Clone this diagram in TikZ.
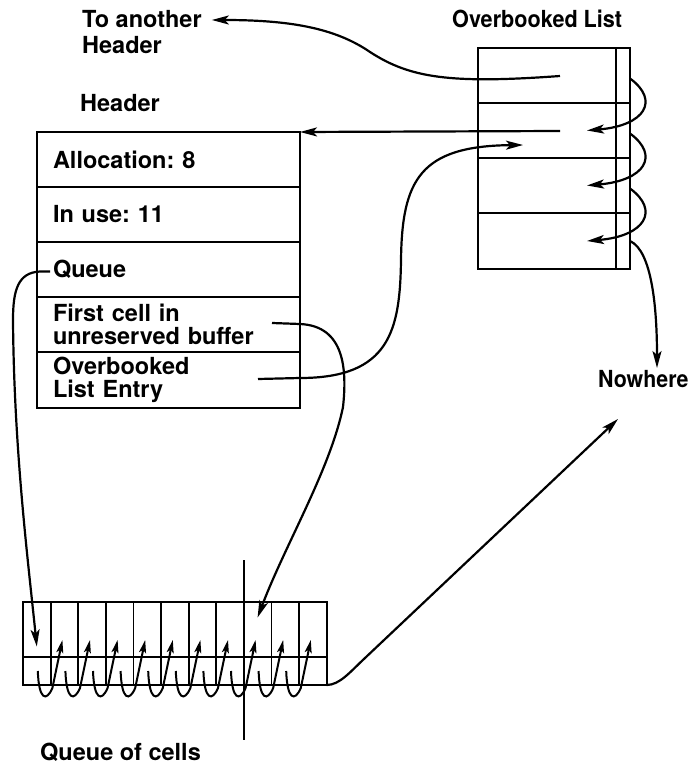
\documentclass[tikz,border=0pt]{standalone}
\usepackage{fontspec}
\usepackage{graphicx}
\setmainfont{TeX Gyre Heros}
\frenchspacing
\usetikzlibrary{arrows.meta,positioning}
\tikzset{
  lbl/.style={font=\bfseries\fontsize{23.5}{26}\selectfont,inner sep=0pt},
  hrow/.style={draw,line width=2pt,minimum width=263pt,minimum height=55pt,text width=231pt,
    inner xsep=16pt,inner ysep=0pt,outer sep=0pt,align=left,font=\bfseries\fontsize{23.5}{23}\selectfont},
  orow/.style={draw,line width=2pt,minimum width=152pt,minimum height=55pt,inner sep=0pt,outer sep=0pt},
  qtop/.style={draw,line width=1.8pt,minimum width=27.6pt,minimum height=55pt,inner sep=0pt,outer sep=0pt},
  qbot/.style={qtop,minimum height=28pt},
  ar/.style={-{Stealth[length=17pt,width=9pt,inset=4pt]},line width=2.2pt},
  sar/.style={-{Stealth[length=13pt,width=7pt,inset=3pt]},line width=2pt},
}
\begin{document}
\begin{tikzpicture}[x=1pt,y=-1pt]
  \useasboundingbox (0,0) rectangle (692,767);
  % labels
  \node[lbl,anchor=north west,align=left] (ta) at (82,10) {To another\\Header};
  \node[lbl,anchor=base west] (olt) at (452,28) {\scalebox{0.92}[1]{Overbooked List}};
  \node[lbl,anchor=base west] (hl) at (80,112) {Header};
  \node[lbl,anchor=base west] (nw) at (598,387) {\scalebox{0.91}[1]{Nowhere}};
  \node[lbl,anchor=base west] (qc) at (40,760) {Queue of cells};
  % header
  \node[hrow] (alloc) at (168.5,159.5) {Allocation: 8};
  \node[hrow,below=0pt of alloc] (inuse) {In use: 11};
  \node[hrow,below=0pt of inuse] (queue) {Queue};
  \node[hrow,below=0pt of queue] (first) {First cell in\\unreserved buffer};
  \node[hrow,below=0pt of first,minimum height=56pt] (entry) {Overbooked\\List Entry};
  % overbooked list
  \node[orow] (ovl1) at (554,75.5) {};
  \node[orow,below=0pt of ovl1] (ovl2) {};
  \node[orow,below=0pt of ovl2] (ovl3) {};
  \node[orow,below=0pt of ovl3,minimum height=56pt] (ovl4) {};
  \draw[line width=2pt] ([xshift=-14pt]ovl1.north east) -- ([xshift=-14pt]ovl4.south east);
  % queue of cells
  \foreach \i in {1,...,11} {
    \node[qtop] (ct\i) at ({9.2+27.6*\i},629.5) {};
    \node[qbot] (cb\i) at ({9.2+27.6*\i},671) {};
  }
  \draw[line width=1.8pt] ([yshift=42pt]ct8.north east) -- ([yshift=-55pt]cb8.south east);
  \foreach \i [evaluate=\i as \j using int(\i+1)] in {1,...,10}
    \draw[sar] ([xshift=1pt]cb\i.center) .. controls ([shift={(2,29)}]cb\i.center)
      and ([shift={(-18,31)}]cb\j.center) .. ([shift={(-12,17)}]cb\j.center)
      -- ([shift={(-2,-17)}]ct\j.south);
  % pointers
  \coordinate (p1) at (560,76);
  \coordinate (p2) at (560,131);
  \coordinate (olin) at (523,145);
  \coordinate (p3) at (258,379);
  \coordinate (p4) at (272,323);
  \draw[ar] (p1) .. controls (450,84) and (410,78) .. (370,52)
    .. controls (335,28) and (290,20) .. ([shift={(10,10)}]ta.north east);
  \draw[ar] (p2) -- (alloc.north east);
  \foreach \k [evaluate=\k as \j using int(\k+1)] in {1,2,3}
    \draw[ar] ([yshift=-3pt]ovl\k.east) .. controls +(30,22) and +(58,-5) .. ([xshift=33pt]ovl\j.center);
  \draw[ar] (ovl4.east) .. controls +(22,10) and +(0,-60) .. ([shift={(59,-19)}]nw.base west);
  \draw[ar] (p3) -- (300,378) .. controls (390,378) and (400,330) .. (401,260)
    .. controls (402,180) and (420,146) .. (olin);
  \draw[ar] (p4) -- (300,324) .. controls (345,326) and (347,370) .. (343,407)
    .. controls (330,470) and (285,545) .. ([yshift=12pt]ct9.center);
  \draw[ar] ([shift={(13,2)}]queue.west) -- ++(-10,0) .. controls +(-22,1) and +(0,-30) .. (13,320)
    .. controls (14,450) and (28,560) .. ([yshift=-17pt]ct1.center);
  \draw[ar] (cb11.south east) .. controls +(13,0) and (350,672) .. (365,658)
    -- ([shift={(20,32)}]nw.base west);
\end{tikzpicture}
\end{document}
